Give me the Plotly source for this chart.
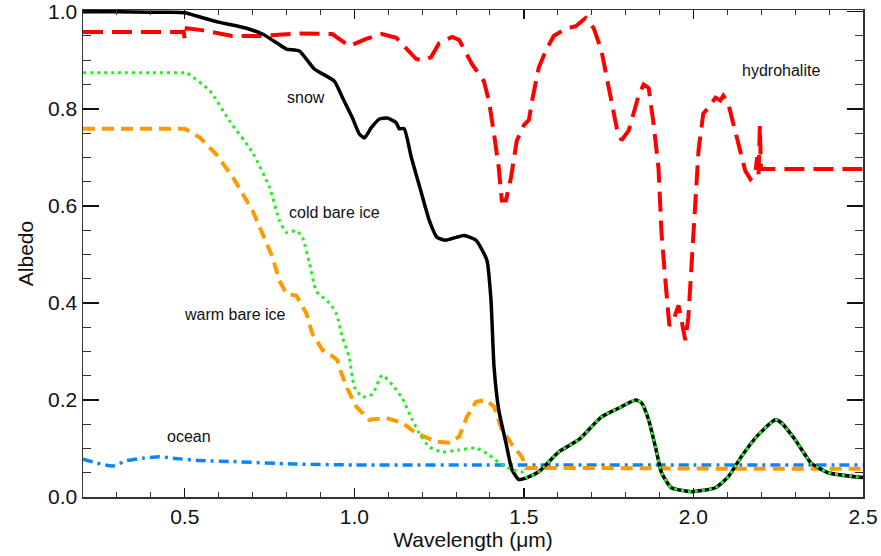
import plotly.graph_objects as go

# ---------------- data ----------------
wl_snow = [0.2, 0.3, 0.4, 0.45, 0.5, 0.55, 0.603, 0.682, 0.729, 0.771, 0.80, 0.838, 0.882, 0.941,
           0.965, 0.994, 1.015, 1.03, 1.05, 1.074, 1.097, 1.124, 1.132, 1.147, 1.168, 1.196, 1.221,
           1.244, 1.27, 1.30, 1.324, 1.359, 1.391, 1.403, 1.412, 1.426, 1.447, 1.465, 1.485, 1.509,
           1.544, 1.603, 1.662, 1.729, 1.779, 1.829, 1.847, 1.868, 1.888, 1.906, 1.935, 1.994, 2.065,
           2.103, 2.141, 2.191, 2.241, 2.259, 2.30, 2.347, 2.397, 2.5]
alb_snow = [1.0, 1.0, 0.999, 0.999, 0.998, 0.988, 0.978, 0.966, 0.954, 0.936, 0.923, 0.919, 0.882, 0.857,
            0.823, 0.782, 0.748, 0.74, 0.761, 0.779, 0.781, 0.771, 0.759, 0.759, 0.70, 0.631, 0.570,
            0.535, 0.529, 0.535, 0.539, 0.529, 0.488, 0.406, 0.268, 0.179, 0.112, 0.056, 0.036, 0.04,
            0.052, 0.093, 0.118, 0.165, 0.183, 0.20, 0.194, 0.159, 0.103, 0.050, 0.019, 0.011, 0.019,
            0.042, 0.083, 0.128, 0.159, 0.153, 0.118, 0.070, 0.050, 0.040]

wl_cold_vis = [0.2, 0.3, 0.4, 0.5, 0.506, 0.574, 0.632, 0.70, 0.75, 0.779, 0.80, 0.829, 0.847, 0.868,
               0.888, 0.926, 0.947, 0.965, 0.985, 1.0, 1.024, 1.053, 1.082, 1.112, 1.141, 1.171, 1.191,
               1.221, 1.259, 1.309, 1.359, 1.397, 1.426, 1.465, 1.494]
alb_cold_vis = [0.874, 0.874, 0.874, 0.874, 0.874, 0.837, 0.775, 0.71, 0.638, 0.57, 0.545, 0.549, 0.535,
                0.481, 0.424, 0.40, 0.378, 0.329, 0.288, 0.227, 0.206, 0.212, 0.251, 0.231, 0.204,
                0.159, 0.132, 0.103, 0.093, 0.097, 0.101, 0.087, 0.071, 0.056, 0.052]

wl_warm = [0.2, 0.3, 0.4, 0.5, 0.544, 0.594, 0.641, 0.671, 0.70, 0.729, 0.759, 0.779, 0.80, 0.829,
           0.847, 0.859, 0.876, 0.906, 0.932, 0.95, 0.962, 0.979, 1.006, 1.044, 1.094, 1.141, 1.182,
           1.241, 1.279, 1.309, 1.332, 1.359, 1.388, 1.412, 1.435, 1.465, 1.494, 1.506, 1.6, 1.8,
           2.0, 2.2, 2.5]
alb_warm = [0.759, 0.759, 0.759, 0.759, 0.741, 0.705, 0.66, 0.625, 0.59, 0.543, 0.494, 0.446, 0.419,
            0.415, 0.391, 0.378, 0.337, 0.303, 0.292, 0.282, 0.255, 0.224, 0.186, 0.159, 0.163, 0.153,
            0.132, 0.114, 0.112, 0.124, 0.165, 0.196, 0.20, 0.186, 0.139, 0.108, 0.083, 0.06, 0.06,
            0.059, 0.058, 0.058, 0.058]

wl_ocean = [0.2, 0.241, 0.288, 0.329, 0.376, 0.426, 0.465, 0.544, 0.641, 0.818, 1.0, 1.5, 2.0, 2.5]
alb_ocean = [0.078, 0.07, 0.064, 0.075, 0.08, 0.083, 0.08, 0.075, 0.073, 0.068, 0.066, 0.066, 0.066, 0.066]

wl_hh = [0.2, 0.3, 0.4, 0.497, 0.500, 0.506, 0.55, 0.60, 0.64, 0.72, 0.78, 0.838, 0.935, 0.956, 0.985,
         1.035, 1.082, 1.124, 1.153, 1.182, 1.2, 1.226, 1.25, 1.288, 1.309, 1.347, 1.382, 1.397, 1.412,
         1.426, 1.435, 1.447, 1.462, 1.479, 1.5, 1.515, 1.524, 1.544, 1.565, 1.588, 1.624, 1.653,
         1.682, 1.706, 1.729, 1.744, 1.759, 1.774, 1.788, 1.809, 1.838, 1.853, 1.868, 1.882, 1.897,
         1.906, 1.918, 1.929, 1.941, 1.956, 1.965, 1.976, 1.985, 1.994, 2.006, 2.015, 2.029, 2.044,
         2.065, 2.079, 2.088, 2.103, 2.118, 2.132, 2.141, 2.153, 2.168, 2.182, 2.188, 2.192, 2.196,
         2.199, 2.3, 2.4, 2.5]
alb_hh = [0.958, 0.958, 0.958, 0.958, 0.944, 0.966, 0.962, 0.955, 0.95, 0.95, 0.952, 0.955, 0.954,
          0.944, 0.929, 0.944, 0.954, 0.946, 0.923, 0.903, 0.899, 0.906, 0.935, 0.948, 0.942, 0.892,
          0.857, 0.816, 0.748, 0.678, 0.611, 0.611, 0.658, 0.734, 0.766, 0.777, 0.816, 0.885, 0.92,
          0.95, 0.965, 0.97, 0.987, 0.966, 0.919, 0.866, 0.81, 0.76, 0.735, 0.755, 0.826, 0.850,
          0.843, 0.771, 0.678, 0.542, 0.44, 0.353, 0.364, 0.395, 0.364, 0.323, 0.37, 0.468, 0.611,
          0.714, 0.79, 0.802, 0.823, 0.817, 0.827, 0.81, 0.768, 0.727, 0.706, 0.672, 0.655, 0.666,
          0.70, 0.665, 0.765, 0.676, 0.676, 0.676, 0.676]

# cold bare ice merges with snow beyond 1.5 um
wl_cold = wl_cold_vis + [w for w in wl_snow if w > 1.5]
alb_cold = alb_cold_vis + [a for w, a in zip(wl_snow, alb_snow) if w > 1.5]

labels = ["snow", "hydrohalite", "cold bare ice", "warm bare ice", "ocean"]
label_x = [0.859, 2.259, 0.941, 0.647, 0.512]
label_y = [0.824, 0.878, 0.586, 0.377, 0.124]

x_tickvals = [0.5, 1.0, 1.5, 2.0, 2.5]
y_tickvals = [0.0, 0.2, 0.4, 0.6, 0.8, 1.0]

for a, b in [(wl_snow, alb_snow), (wl_cold_vis, alb_cold_vis), (wl_warm, alb_warm),
             (wl_ocean, alb_ocean), (wl_hh, alb_hh)]:
    assert len(a) == len(b), (len(a), len(b))

FONT = "Liberation Sans, Arial, sans-serif"

# ---------------- figure ----------------
fig = go.Figure()
fig.add_trace(go.Scatter(x=wl_hh, y=alb_hh, mode="lines", name="hydrohalite",
                         line=dict(color="#FF0000", width=4, dash="20px,9px")))
fig.add_trace(go.Scatter(x=wl_ocean, y=alb_ocean, mode="lines", name="ocean",
                         line=dict(color="#0A85FF", width=3.5, dash="10px,5px,3px,5px",
                                   shape="spline", smoothing=0.6)))
fig.add_trace(go.Scatter(x=wl_warm, y=alb_warm, mode="lines", name="warm bare ice",
                         line=dict(color="#FF9A00", width=4, dash="12px,7px")))
fig.add_trace(go.Scatter(x=wl_snow, y=alb_snow, mode="lines", name="snow",
                         line=dict(color="#000000", width=3.5, shape="spline", smoothing=0.5)))
fig.add_trace(go.Scatter(x=wl_cold, y=alb_cold, mode="lines", name="cold bare ice",
                         line=dict(color="#22EE22", width=3, dash="3px,4px",
                                   shape="spline", smoothing=0.5)))

for t, x, y in zip(labels, label_x, label_y):
    fig.add_annotation(x=x, y=y, text=t, showarrow=False,
                       font=dict(family=FONT, size=16, color="#111"))

axis_common = dict(showline=True, linecolor="#333", linewidth=1.5, mirror="ticks",
                   ticks="inside", tickcolor="#111", tickwidth=1.5, showgrid=False, zeroline=False,
                   automargin=False,
                   tickfont=dict(family=FONT, size=21, color="#111"))

fig.update_xaxes(range=[0.2, 2.5], tickvals=x_tickvals, tickformat=".1f", ticklen=9,
                 minor=dict(dtick=0.1, tick0=0, ticks="inside", ticklen=5, tickcolor="#333",
                            tickwidth=1, showgrid=False),
                 title=dict(text="Wavelength (μm)", standoff=2,
                            font=dict(family=FONT, size=21, color="#111")),
                 **axis_common)
fig.update_yaxes(range=[0, 1.0035], tickvals=y_tickvals, tickformat=".1f", ticklen=16,
                 minor=dict(dtick=0.05, tick0=0, ticks="inside", ticklen=8, tickcolor="#333",
                            tickwidth=1, showgrid=False),
                 title=dict(text="Albedo", standoff=8,
                            font=dict(family=FONT, size=21, color="#111")),
                 **axis_common)

fig.update_layout(width=881, height=556, autosize=False, showlegend=False,
                  margin=dict(l=83, r=18, t=10, b=59),
                  plot_bgcolor="white", paper_bgcolor="white")

fig.write_html("out.html", config={"displayModeBar": False, "staticPlot": True},
               post_script="document.body.style.margin='0';document.body.style.overflow='hidden';")
